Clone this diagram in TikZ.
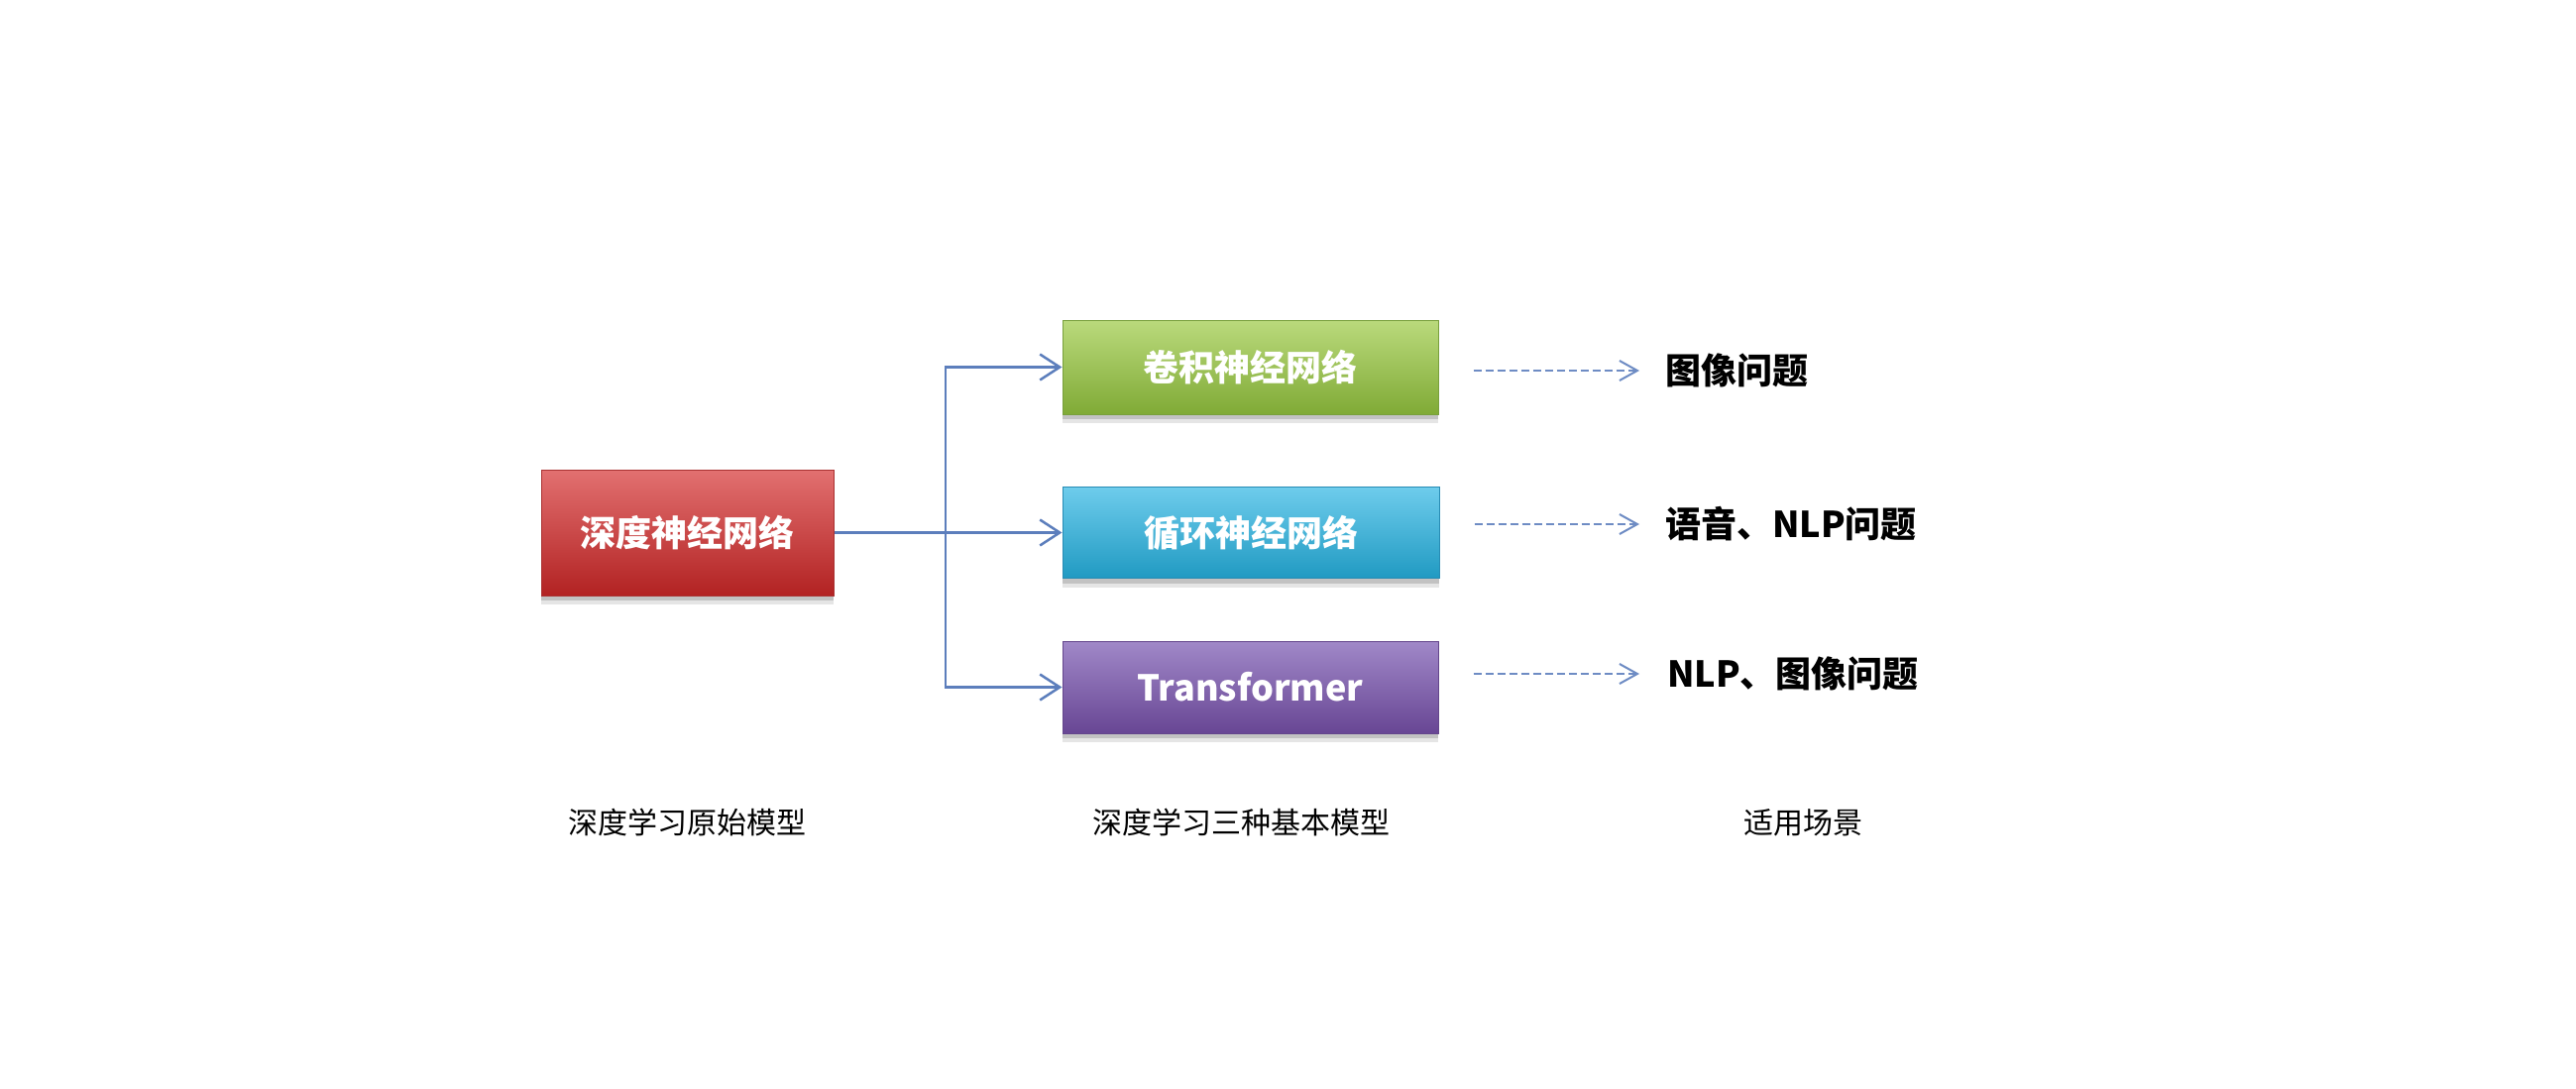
\documentclass[tikz,border=0pt]{standalone}
\usepackage{fontspec}
\newfontfamily\cjk{Noto Sans CJK SC}
\usetikzlibrary{arrows.meta,shadows}
\definecolor{redT}{RGB}{226,112,112}
\definecolor{redB}{RGB}{178,34,34}
\definecolor{redD}{RGB}{170,50,50}
\definecolor{grnT}{RGB}{186,218,124}
\definecolor{grnB}{RGB}{128,170,54}
\definecolor{grnD}{RGB}{120,160,60}
\definecolor{bluT}{RGB}{110,204,236}
\definecolor{bluB}{RGB}{32,154,194}
\definecolor{bluD}{RGB}{40,140,180}
\definecolor{purT}{RGB}{160,136,200}
\definecolor{purB}{RGB}{104,70,148}
\definecolor{purD}{RGB}{100,70,140}
\definecolor{connC}{RGB}{92,126,188}
\definecolor{dashC}{RGB}{110,140,196}
\begin{document}
\begin{tikzpicture}[x=1pt,y=-1pt,
  box/.style={rectangle, line width=1pt, text=white, font=\cjk\bfseries\fontsize{36pt}{40pt}\selectfont,
    drop shadow={shadow xshift=0pt,shadow yshift=-9pt,fill=black,opacity=0.10},
    drop shadow={shadow xshift=0pt,shadow yshift=-5pt,fill=black,opacity=0.15},
    inner sep=0pt},
  lab/.style={font=\cjk\bfseries\fontsize{36pt}{40pt}\selectfont, inner sep=0pt, anchor=west},
  captxt/.style={font=\cjk\fontsize{30pt}{34pt}\selectfont, inner sep=0pt},
  conn/.style={draw=connC, line width=2.5pt, -{Straight Barb[length=20pt,width=26pt,line width=2.5pt]}},
  dashconn/.style={draw=dashC, line width=2pt, dash pattern=on 8pt off 4pt, -{Straight Barb[length=18pt,width=20pt,line width=2pt]}}
]
\useasboundingbox[fill=white] (0,0) rectangle (2599,1099);

\node[box, top color=redT, bottom color=redB, draw=redD, minimum width=295pt, minimum height=127pt] (dnn) at (693.5,537.5) {深度神经网络};
\node[box, top color=grnT, bottom color=grnB, draw=grnD, minimum width=379pt, minimum height=95pt] (cnn) at (1261.5,370.5) {卷积神经网络};
\node[box, top color=bluT, bottom color=bluB, draw=bluD, minimum width=380pt, minimum height=92pt] (rnn) at (1262,537.5) {循环神经网络};
\node[box, top color=purT, bottom color=purB, draw=purD, minimum width=379pt, minimum height=93pt] (tf) at (1261.5,693.5) {Transformer};

\coordinate (j) at (954,537.5);
\draw[conn] (dnn.east) -- (rnn.west);
\draw[conn] (j) |- (cnn.west);
\draw[conn] (j) |- (tf.west);

\node[lab] (l1) at (1680,374) {图像问题};
\node[lab] (l2) at (1680,529) {语音、NLP问题};
\node[lab] (l3) at (1682,680) {NLP、图像问题};

\draw[dashconn] ([xshift=35pt]cnn.east |- l1.west) -- ([xshift=-26pt]l1.west);
\draw[dashconn] ([xshift=35pt]rnn.east |- l2.west) -- ([xshift=-26pt]l2.west);
\draw[dashconn] ([xshift=35pt]tf.east |- l3.west) -- ([xshift=-28pt]l3.west);

\node[captxt] (c1) at (693.5,830) {深度学习原始模型};
\node[captxt] (c2) at (1252,830) {深度学习三种基本模型};
\node[captxt] (c3) at (1819,830) {适用场景};
\end{tikzpicture}
\end{document}
